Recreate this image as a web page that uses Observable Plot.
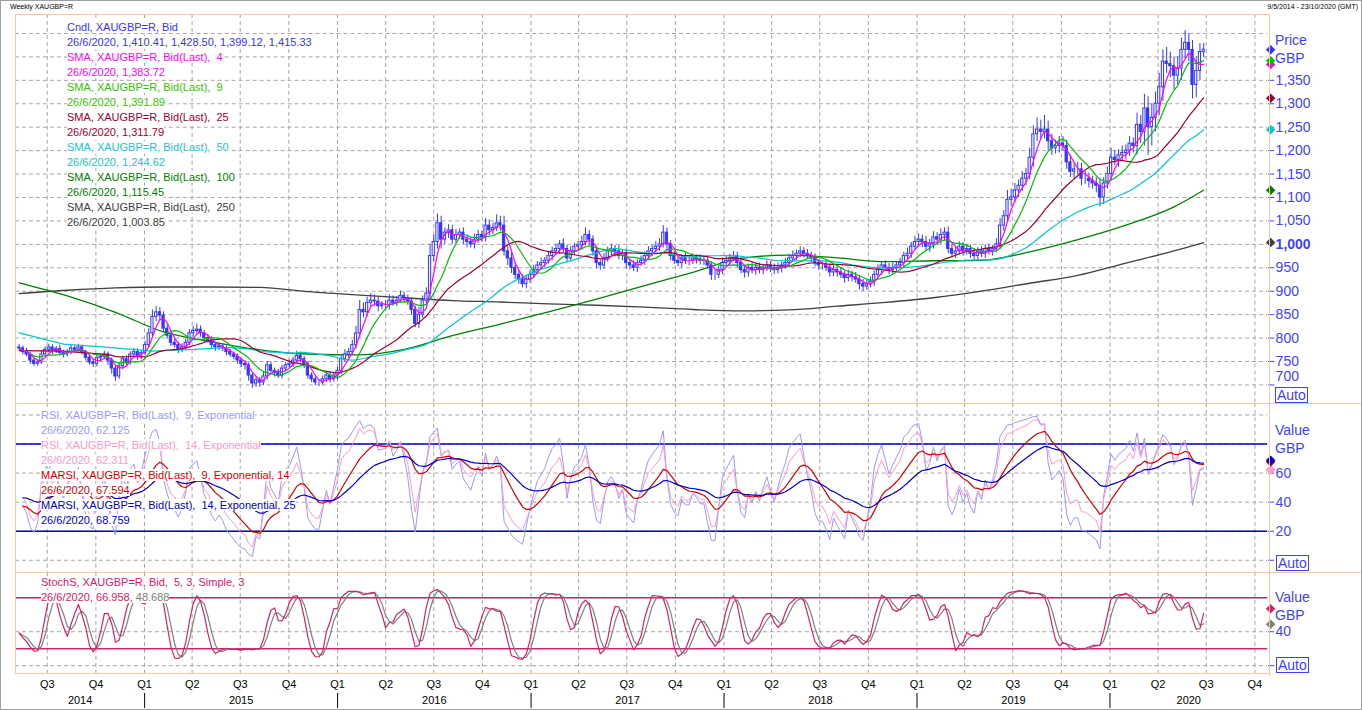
<!DOCTYPE html>
<html><head><meta charset="utf-8">
<script src="https://cdn.jsdelivr.net/npm/d3@7"></script>
<script src="https://cdn.jsdelivr.net/npm/@observablehq/plot@0.6"></script>
<style>
html,body{margin:0;padding:0;background:#fff;}
#wrap{position:relative;width:1362px;height:710px;overflow:hidden;background:#fff;box-sizing:border-box;border:1px solid #a0a0a0;font-family:"Liberation Sans",Arial,sans-serif;}
#wrap svg{position:absolute;left:-1px;}
.ln{position:absolute;background:#f8c99c;}
.leg{position:absolute;font-size:11px;line-height:13px;white-space:pre;}
.leg span{background:#fff;}
.ax{position:absolute;font-size:14px;color:#3f3fff;white-space:pre;line-height:16px;}
.auto{position:absolute;font-size:14px;color:#3f3fff;border:1px solid #3f3fff;line-height:14px;padding:0 1px;background:#fff;}
.hdr{position:absolute;font-size:7px;color:#000;white-space:pre;line-height:8px;}
</style></head><body><div id="wrap"></div>
<script>
// ---------------- DATA (weekly XAUGBP, Friday closes from 9/5/2014) ----------------
const firstWeek = "2014-05-09";
const firstOpen = 780;
const closes = [
 778,770,765,752,745,748,765,775,
 780,772,777,768,765,770,778,775,780,770,758,748,745,
 757,760,765,752,735,718,740,755,748,765,770,760,768,
 785,810,845,855,848,820,805,790,785,775,780,790,810,
 815,818,810,800,795,785,780,782,778,770,765,760,752,
 745,742,720,703,710,705,718,742,730,725,720,735,742,
 745,752,762,755,745,720,712,705,705,712,720,712,720,
 730,755,765,770,785,810,860,855,875,880,878,868,870,
 870,880,875,880,890,885,878,860,830,850,880,895,975,
 1005,1045,1010,1025,1030,1010,1020,1025,1010,1005,1000,1010,1020,1015,
 1040,1030,1035,1045,1040,985,970,950,935,925,915,925,935,
 945,955,960,965,975,985,990,1000,990,970,985,995,998,
 1005,1020,1010,985,960,955,970,985,990,985,975,980,960,
 955,950,960,965,975,985,990,995,1000,1025,1000,975,965,
 960,970,965,965,970,968,965,965,955,935,935,945,960,
 965,970,975,960,945,940,950,945,950,945,950,955,950,
 945,950,955,960,970,975,980,985,980,975,970,960,955,
 955,950,940,945,940,935,928,935,930,925,915,910,915,
 920,935,945,955,950,945,950,955,960,975,980,995,1005,
 1010,1005,995,1000,1015,1010,1020,1025,990,980,985,995,985,
 990,980,975,985,980,990,985,990,1000,1040,1060,1095,1100,
 1115,1125,1140,1150,1185,1235,1245,1240,1245,1220,1205,1210,1215,
 1210,1175,1155,1160,1160,1140,1140,1135,1130,1125,1100,1130,1150,
 1185,1180,1190,1195,1200,1215,1210,1255,1240,1290,1250,1270,1300,
 1335,1390,1385,1380,1360,1375,1415,1430,1415,1340,1370,1410.41,1415.33
];
const wickUp = [
 6,5,8,4,5,6,8,6,
 7,6,5,8,6,5,6,5,7,5,4,5,6,
 8,6,7,5,6,5,8,6,7,6,8,7,6,
 8,10,15,12,10,8,8,6,7,6,8,7,8,
 10,12,8,6,7,8,6,7,6,5,6,5,6,
 6,7,5,6,8,6,10,8,7,6,8,7,6,
 8,7,10,8,6,5,6,5,6,7,6,8,7,
 8,7,10,8,10,15,20,15,12,15,12,10,8,
 10,12,10,8,10,8,7,8,8,15,10,12,25,
 15,20,15,10,12,10,12,8,10,8,10,12,10,8,
 15,12,10,18,15,20,10,12,10,8,10,8,10,
 10,8,11,7,10,9,10,8,12,8,10,7,8,
 12,15,10,8,10,7,10,9,10,8,12,8,10,
 8,10,7,10,9,10,8,11,12,15,10,8,10,
 10,8,11,8,10,7,10,9,10,8,10,8,11,
 10,9,10,8,12,10,8,11,8,10,7,10,8,
 8,10,7,10,9,11,8,10,8,9,8,10,7,
 8,10,8,11,8,10,7,10,8,10,9,10,8,
 10,8,11,8,10,9,10,8,10,8,12,9,12,
 12,10,12,11,12,10,13,10,12,10,8,10,9,
 10,8,11,8,10,9,10,8,12,15,12,20,18,
 15,12,15,12,20,18,25,20,30,18,15,12,15,
 15,12,15,12,15,13,15,12,10,12,15,12,15,
 20,15,12,15,12,15,12,25,20,30,25,30,25,
 30,25,30,25,20,25,25,26,20,20,30,18,13.17
];
const wickDn = [
 5,6,5,8,6,5,4,6,
 6,7,5,6,8,5,6,7,5,6,7,6,8,
 6,8,6,10,12,10,6,8,7,6,5,8,6,
 6,5,8,10,12,8,7,8,6,8,6,5,6,
 8,6,8,10,6,7,8,6,7,8,6,7,8,
 8,10,12,10,8,10,6,8,7,8,6,7,6,
 6,8,6,8,10,8,7,6,8,6,7,8,6,
 10,8,7,8,6,8,10,12,10,8,10,12,8,
 8,10,7,8,6,10,8,12,8,10,8,10,15,
 12,15,20,10,12,10,8,10,10,12,8,10,8,10,
 10,12,10,8,12,10,15,12,10,10,8,10,8,
 8,10,9,10,7,10,8,11,8,10,8,9,8,
 10,8,12,10,12,10,8,8,10,12,8,10,12,
 10,8,10,7,10,8,11,8,10,8,15,10,8,
 8,10,8,11,8,10,9,10,8,12,12,8,10,
 8,10,7,10,8,12,10,8,11,8,10,8,10,
 10,8,11,8,10,7,10,8,9,8,10,8,10,
 10,8,10,9,10,8,11,8,10,8,12,10,8,
 8,10,8,11,8,10,9,10,8,10,8,10,8,
 10,12,10,12,10,12,10,12,10,8,10,8,10,
 8,10,8,11,8,10,8,10,8,10,12,10,15,
 12,15,12,15,12,20,15,18,15,20,15,12,15,
 12,15,12,15,12,15,12,15,12,15,20,15,12,
 15,12,15,12,15,12,15,20,25,30,60,40,30,
 25,30,20,25,30,20,25,20,25,30,27,20,11.29
];
// long moving averages every 13 weeks (plus last week)
const longMaWeekIdx = [0,13,26,39,52,65,78,91,104,117,130,143,156,169,182,195,208,221,234,247,260,273,286,299,312,320];
const sma100Vals = [918,890,855,813,792,775,766,764,776,805,830,856,883,912,940,970,977,971,963,965,966,984,1010,1041,1080,1115.45];
const sma250Vals = [895,902,907,909,909,908,899,892,886,880,877,873,870,866,861,858,860,868,876,886,900,917,934,960,986,1003.85];
// early part of SMA 25 / 50 (before enough weeks are on the chart)
const sma25LeadIdx = [0,12];
const sma25LeadVals = [773,772];
const sma50LeadIdx = [0,12,24,36];
const sma50LeadVals = [811,787,780,772];
// legend last values
const lastDate = "26/6/2020";
const smaLegend = [["4","1,383.72"],["9","1,391.89"],["25","1,311.79"],["50","1,244.62"],["100","1,115.45"],["250","1,003.85"]];
const smaLastVals = [1383.72,1391.89,1311.79,1244.62,1115.45,1003.85];
const rsiLegendVals = ["62.125","62.311","67.594","68.759"];
const rsiLastVals = [62.125,62.311,67.594,68.759];
const stochLastVals = [66.958,48.688];
// axis ticks
const priceTicks = [700,750,800,850,900,950,1000,1050,1100,1150,1200,1250,1300,1350];
const priceGrid = [700,750,800,850,900,950,1000,1050,1100,1150,1200,1250,1300,1350,1400,1450];
const rsiGrid = [0,20,40,60,80,100];
const rsiTicks = [0,20,40,60];
const rsiLabels = [20,40,60];
const rsiBands = [20,80];
const stochGrid = [0,40,80];
const stochTicks = [0,40];
const stochLabels = [40];
const stochBands = [20,80];

// ---------------- COLOURS ----------------
const CANDLE = "#3535ff", AXIS = "#3f3fff";
const C_SMA = ["#ff00ff","#00c000","#990033","#00c8d0","#008000","#404040"];
const C_SMA_TXT = ["#ff00ff","#33c400","#990033","#20c4cc","#008000","#404040"];
const C_RSI = ["#9999ff","#ff99cc","#d40000","#0000c8"];
const C_STK = "#d4206e", C_STD = "#808080";
const FONT = "'Liberation Sans', Arial, sans-serif";

// ---------------- DERIVED SERIES ----------------
const DAY = 864e5;
const t0 = Date.parse(firstWeek + "T00:00:00Z");
const N = closes.length;
const dates = closes.map((_, i) => new Date(t0 + i * 7 * DAY));
const candles = closes.map((c, i) => {
  const o = i === 0 ? firstOpen : closes[i - 1];
  return {date: dates[i], open: o, close: c,
    high: Math.max(o, c) + (wickUp[i] ?? 8), low: Math.min(o, c) - (wickDn[i] ?? 8), up: c >= o};
});
function smaPartial(n) {
  return closes.map((_, i) => ({date: dates[i], v: d3.mean(closes.slice(Math.max(0, i - n + 1), i + 1))}));
}
function smaFull(n) {
  const out = [];
  for (let i = n - 1; i < N; i++) out.push({date: dates[i], v: d3.mean(closes.slice(i - n + 1, i + 1))});
  return out;
}
const sma4 = smaPartial(4), sma9 = smaPartial(9);
const sma25 = sma25LeadIdx.map((k, j) => ({date: dates[k], v: sma25LeadVals[j]})).concat(smaFull(25));
const sma50 = sma50LeadIdx.map((k, j) => ({date: dates[k], v: sma50LeadVals[j]})).concat(smaFull(50));
const sma100 = longMaWeekIdx.map((k, j) => ({date: dates[k], v: sma100Vals[j]}));
const sma250 = longMaWeekIdx.map((k, j) => ({date: dates[k], v: sma250Vals[j]}));

function rsi(n) {
  const a = 2 / (n + 1);
  const ch = closes.slice(1).map((c, i) => c - closes[i]);
  let g = d3.mean(ch.slice(0, n), x => Math.max(x, 0)), l = d3.mean(ch.slice(0, n), x => Math.max(-x, 0));
  const out = [];
  for (let i = 1; i < N; i++) {
    const c = ch[i - 1];
    g = a * Math.max(c, 0) + (1 - a) * g;
    l = a * Math.max(-c, 0) + (1 - a) * l;
    out.push({date: dates[i], v: l === 0 ? 100 : 100 - 100 / (1 + g / l)});
  }
  return out;
}
function ema(series, m) {
  const a = 2 / (m + 1);
  let e = series[0].v;
  return series.map(d => { e = a * d.v + (1 - a) * e; return {date: d.date, v: e}; });
}
const rsi9 = rsi(9), rsi14 = rsi(14);
const marsi9 = ema(rsi9, 14), marsi14 = ema(rsi14, 25);

const rawK = candles.map((d, i) => {
  const w = candles.slice(Math.max(0, i - 4), i + 1);
  const hh = d3.max(w, e => e.high), ll = d3.min(w, e => e.low);
  return (d.close - ll) / (hh - ll) * 100;
});
const slowK = rawK.map((_, i) => d3.mean(rawK.slice(Math.max(0, i - 2), i + 1)));
const slowD = slowK.map((_, i) => d3.mean(slowK.slice(Math.max(0, i - 2), i + 1)));
const stochK = slowK.map((v, i) => ({date: dates[i], v}));
const stochD = slowD.map((v, i) => ({date: dates[i], v}));

// ---------------- SCALES / LAYOUT ----------------
const X0 = new Date(Date.UTC(2014, 4, 2)), X1 = new Date(Date.UTC(2020, 9, 25));
const quarters = d3.utcMonth.every(3).range(new Date(Date.UTC(2014, 6, 1)), X1);
const years = d3.range(2014, 2021).map(y => {
  const a = Math.max(Date.UTC(y, 0, 1), +X0), b = Math.min(Date.UTC(y + 1, 0, 1), +X1);
  return {year: String(y), mid: new Date((a + b) / 2)};
});
const yearStarts = d3.range(2015, 2021).map(y => new Date(Date.UTC(y, 0, 1)));
const fmtC = d3.format(",");
const base = h => ({
  width: 1362, height: h, marginLeft: 15, marginRight: 93, marginTop: 0, marginBottom: 0,
  x: {type: "utc", domain: [X0, X1], axis: null},
  color: {type: "identity"},
  style: {fontFamily: FONT, background: "transparent", overflow: "visible"}
});
const gridStyle = {stroke: "#a6a6a6", strokeOpacity: 1, strokeDasharray: "4,3", strokeWidth: 1};
const lineOf = (data, color, w = 1.2, curve = "linear") => Plot.line(data, {x: "date", y: "v", stroke: color, strokeWidth: w, curve});
const diamonds = (vals, colors) => Plot.dot(vals.map((v, i) => ({v, c: colors[i]})),
  {x: () => X1, y: "v", fill: "c", symbol: "diamond2", r: 4.3, dx: 3});

const wrap = document.getElementById("wrap");
function place(svg, top) { svg.style.top = (top - 1) + "px"; wrap.appendChild(svg); }

// Price panel
const pricePlot = Plot.plot({
  ...base(389),
  y: {domain: [661.6, 1490.5]},
  marks: [
    Plot.gridY(priceGrid, gridStyle),
    Plot.gridX(quarters, gridStyle),
    lineOf(sma250, C_SMA[5], 1.3, "monotone-x"),
    lineOf(sma100, C_SMA[4], 1.3, "monotone-x"),
    Plot.ruleX(candles, {x: "date", y1: "low", y2: "high", stroke: CANDLE, strokeWidth: 1}),
    Plot.rect(candles, {x1: d => new Date(+d.date - 2.1 * DAY), x2: d => new Date(+d.date + 2.1 * DAY),
      y1: "open", y2: "close", fill: d => d.up ? "#ffffff" : CANDLE, stroke: CANDLE, strokeWidth: 1}),
    lineOf(sma50, C_SMA[3]),
    lineOf(sma25, C_SMA[2]),
    lineOf(sma9, C_SMA[1]),
    lineOf(sma4, C_SMA[0]),
    Plot.axisY(priceTicks, {anchor: "right", tickSize: 6, tickFormat: () => "", stroke: AXIS, label: null}),
    Plot.text(priceTicks.filter(d => d !== 700 && d !== 1000), {y: d => d, text: d => fmtC(d), frameAnchor: "right", dx: 8, textAnchor: "start", fill: AXIS, fontSize: 14}),
    Plot.text([1000], {y: d => d, text: d => fmtC(d), frameAnchor: "right", dx: 8, textAnchor: "start", fill: AXIS, fontSize: 14, fontWeight: "bold"}),
    Plot.text([700], {y: d => d, text: d => fmtC(d), frameAnchor: "right", dx: 8, dy: -8, textAnchor: "start", fill: AXIS, fontSize: 14}),
    diamonds([smaLastVals[5], smaLastVals[4], smaLastVals[3], smaLastVals[2], smaLastVals[0], smaLastVals[1], closes[N - 1]],
      [C_SMA[5], C_SMA[4], C_SMA[3], C_SMA[2], C_SMA[0], C_SMA[1], CANDLE])
  ]
});
place(pricePlot, 14);

// RSI panel
const rsiPlot = Plot.plot({
  ...base(169),
  y: {domain: [-8.25, 107.9]},
  marks: [
    Plot.gridY(rsiGrid, gridStyle),
    Plot.gridX(quarters, gridStyle),
    Plot.ruleY(rsiBands, {y: d => d, stroke: "#0000c8", strokeWidth: 1.6}),
    lineOf(rsi9, C_RSI[0], 1),
    lineOf(rsi14, C_RSI[1], 1),
    lineOf(marsi9, C_RSI[2], 1.2),
    lineOf(marsi14, C_RSI[3], 1.2),
    Plot.axisY(rsiTicks, {anchor: "right", tickSize: 6, tickFormat: () => "", stroke: AXIS, label: null}),
    Plot.text(rsiLabels, {y: d => d, text: d => String(d), frameAnchor: "right", dx: 8, textAnchor: "start", fill: AXIS, fontSize: 14}),
    diamonds([rsiLastVals[0], rsiLastVals[1], rsiLastVals[2], rsiLastVals[3]], [C_RSI[0], C_RSI[1], C_RSI[2], C_RSI[3]])
  ]
});
place(rsiPlot, 403);

// Stochastic panel
const stPlot = Plot.plot({
  ...base(101),
  y: {domain: [-9.06, 109.8]},
  marks: [
    Plot.gridY(stochGrid, gridStyle),
    Plot.gridX(quarters, gridStyle),
    Plot.ruleY(stochBands, {y: d => d, stroke: C_STK, strokeWidth: 1.4}),
    lineOf(stochD, C_STD, 1.2),
    lineOf(stochK, C_STK, 1.2),
    Plot.axisY(stochTicks, {anchor: "right", tickSize: 6, tickFormat: () => "", stroke: AXIS, label: null}),
    Plot.text(stochLabels, {y: d => d, text: d => String(d), frameAnchor: "right", dx: 8, textAnchor: "start", fill: AXIS, fontSize: 14}),
    diamonds([stochLastVals[1], stochLastVals[0]], [C_STD, C_STK])
  ]
});
place(stPlot, 572);

// Time axis
const axPlot = Plot.plot({
  ...base(37),
  y: {domain: [0, 37], range: [0, 37], axis: null},
  marks: [
    Plot.text(quarters, {x: d => d, y: 11, text: d => "Q" + (d.getUTCMonth() / 3 + 1), fontSize: 11, fill: "#000"}),
    Plot.text(years, {x: "mid", y: 27, text: "year", fontSize: 11, fill: "#000"}),
    Plot.ruleX(yearStarts, {x: d => d, y1: 20, y2: 35, stroke: "#000", strokeWidth: 1})
  ]
});
place(axPlot, 673);

// ---------------- FRAME LINES, LABELS, LEGENDS (HTML) ----------------
function div(cls, css, html) { const e = document.createElement("div"); e.className = cls; e.style.cssText = css; if (html != null) e.innerHTML = html; wrap.appendChild(e); return e; }
div("ln", "left:14px;top:13px;width:1255px;height:1px;");
div("ln", "left:14px;top:13px;width:1px;height:660px;");
div("ln", "left:1268px;top:13px;width:1px;height:662px;");
div("ln", "left:14px;top:402px;width:1350px;height:1px;");
div("ln", "left:14px;top:571px;width:1350px;height:1px;");
div("ln", "left:14px;top:672px;width:1255px;height:1px;");

div("hdr", "left:9px;top:2px;", "Weekly XAUGBP=R");
div("hdr", "right:3px;top:2px;", "9/5/2014 - 23/10/2020 (GMT)");

div("ax", "left:1274px;top:31px;", "Price");
div("ax", "left:1274px;top:49px;", "GBP");
div("auto", "left:1274px;top:386px;", "Auto");
div("ax", "left:1274px;top:421px;", "Value");
div("ax", "left:1274px;top:439px;", "GBP");
div("auto", "left:1275px;top:554px;", "Auto");
div("ax", "left:1274px;top:588px;", "Value");
div("ax", "left:1274px;top:606px;", "GBP");
div("auto", "left:1275px;top:656px;", "Auto");

// price legend
const f2 = d3.format(",.2f");
const last = candles[N - 1];
const priceLeg = [["Cndl, XAUGBP=R, Bid", CANDLE],
  [lastDate + ", " + [last.open, last.high, last.low, last.close].map(f2).join(", "), CANDLE]];
smaLegend.forEach(([p, v], i) => {
  priceLeg.push(["SMA, XAUGBP=R, Bid(Last),  " + p, C_SMA_TXT[i]]);
  priceLeg.push([lastDate + ", " + v, C_SMA_TXT[i]]);
});
priceLeg.forEach(([t, c], i) => div("leg", `left:66px;top:${20 + i * 15}px;color:${c};`, `<span>${t}</span>`));

const rsiLeg = [
  ["RSI, XAUGBP=R, Bid(Last),  9, Exponential", C_RSI[0]], [lastDate + ", " + rsiLegendVals[0], C_RSI[0]],
  ["RSI, XAUGBP=R, Bid(Last),  14, Exponential", C_RSI[1]], [lastDate + ", " + rsiLegendVals[1], C_RSI[1]],
  ["MARSI, XAUGBP=R, Bid(Last),  9, Exponential, 14", C_RSI[2]], [lastDate + ", " + rsiLegendVals[2], C_RSI[2]],
  ["MARSI, XAUGBP=R, Bid(Last),  14, Exponential, 25", C_RSI[3]], [lastDate + ", " + rsiLegendVals[3], C_RSI[3]]
];
rsiLeg.forEach(([t, c], i) => div("leg", `left:40px;top:${408 + i * 15}px;color:${c};`, `<span>${t}</span>`));

div("leg", `left:40px;top:575px;color:${C_STK};`, `<span>StochS, XAUGBP=R, Bid,  5, 3, Simple, 3</span>`);
div("leg", `left:40px;top:590px;color:${C_STK};`, `<span>${lastDate}, ${stochLastVals[0].toFixed(3)}, <span style="color:${C_STD}">${stochLastVals[1].toFixed(3)}</span></span>`);
</script></body></html>
